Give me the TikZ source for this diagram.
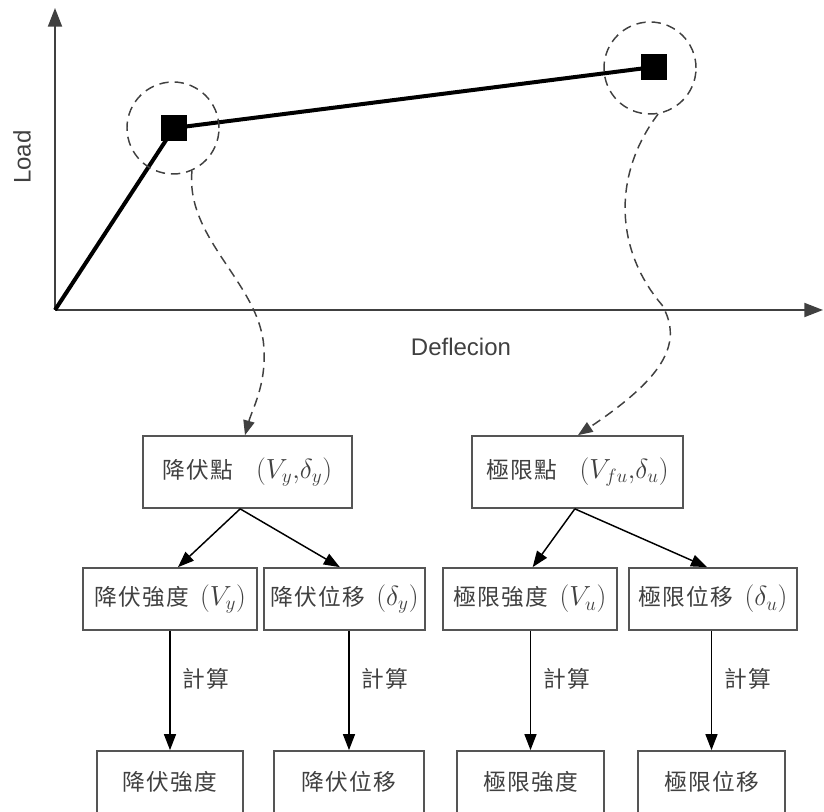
\documentclass[tikz,border=0pt]{standalone}
\usepackage{fontspec}
\newfontfamily\cjk{Noto Sans CJK TC}
\newfontfamily\labfont{Liberation Sans}
\usetikzlibrary{arrows.meta}
\newcommand\ls{\hspace{1pt}}
\newcommand\mathbig[1]{{\fontsize{20}{24}\selectfont$#1$}}
\definecolor{linegray}{HTML}{404040}
\definecolor{boxgray}{HTML}{555555}
\definecolor{txtgray}{HTML}{404040}
\begin{document}
\begin{tikzpicture}[x=0.75pt,y=-0.75pt,
  axisline/.style={draw=linegray, line width=1.4pt,
    -{Triangle[length=14pt,width=10.5pt]}},
  curve/.style={draw=black, line width=3pt},
  pt/.style={fill=black, minimum size=19.5pt, inner sep=0pt},
  ring/.style={circle, draw=linegray, line width=1.1pt,
    dash pattern=on 7pt off 4.5pt, minimum size=69pt, inner sep=0pt},
  link/.style={draw=linegray, line width=1.1pt, dash pattern=on 7pt off 4.5pt,
    -{Triangle[length=11pt,width=8.5pt]}},
  arr/.style={draw=black, line width=1.1pt,
    -{Triangle[length=12pt,width=9pt]}},
  box/.style={draw=boxgray, line width=1.3pt, fill=white,
    text=txtgray, font=\cjk\fontsize{17}{20}\selectfont, inner sep=0pt},
  calc/.style={text=txtgray, font=\cjk\fontsize{17}{20}\selectfont,
    inner sep=0pt, anchor=west},
  axlabel/.style={text=txtgray, font=\labfont\fontsize{18}{21}\selectfont}
]
\useasboundingbox (0,0) rectangle (824,812);
\clip (0,0) rectangle (824,812);

% axes
\coordinate (O) at (55,310);
\coordinate (ytip) at (55,8);
\coordinate (xtip) at (823,310);
\draw[axisline] (O) -- (ytip);
\draw[axisline] (O) -- (xtip);
\node[axlabel, rotate=90] (load) at (22,157) {Load};
\node[axlabel] (defl) at (461,347) {Deflecion};

% bilinear load--deflection curve
\node[pt] (yield) at (174,128) {};
\node[pt] (ult) at (654,67) {};
\draw[curve] (O) -- (yield.center) -- (ult.center);
\node[ring] (c1) at (173,128) {};
\node[ring] (c2) at (650,68) {};

% boxes
\node[box, minimum width=156.75pt, minimum height=54pt] (b1) at (247.5,472)
  {降\ls 伏\ls 點\quad\mathbig{(V_y{,}\delta_y)}};
\node[box, minimum width=158.25pt, minimum height=54pt] (b2) at (577.5,472)
  {極\ls 限\ls 點\quad\mathbig{(V_{fu}{,}\delta_u)}};

\node[box, minimum width=130.5pt, minimum height=46.5pt] (A) at (170,599)
  {降\ls 伏\ls 強\ls 度\enspace\mathbig{(V_y)}};
\node[box, minimum width=120.75pt, minimum height=46.5pt] (B) at (344.5,599)
  {降\ls 伏\ls 位\ls 移\enspace\mathbig{(\delta_y)}};
\node[box, minimum width=130.5pt, minimum height=46.5pt] (C) at (530,599)
  {極\ls 限\ls 強\ls 度\enspace\mathbig{(V_u)}};
\node[box, minimum width=126pt, minimum height=46.5pt] (D) at (713,599)
  {極\ls 限\ls 位\ls 移\enspace\mathbig{(\delta_u)}};

\node[box, minimum width=109.5pt, minimum height=46.5pt] (E) at (170,782)
  {降\ls 伏\ls 強\ls 度};
\node[box, minimum width=112.5pt, minimum height=46.5pt] (F) at (349,782)
  {降\ls 伏\ls 位\ls 移};
\node[box, minimum width=110.25pt, minimum height=46.5pt] (G) at (530.5,782)
  {極\ls 限\ls 強\ls 度};
\node[box, minimum width=110.25pt, minimum height=46.5pt] (H) at (711.5,782)
  {極\ls 限\ls 位\ls 移};

% dashed leaders from the marked points to their boxes
\draw[link] (c1.-66) .. controls (185,240) and (262,285) .. (264,350)
  .. controls (266,385) and (252,410) .. (b1.north -| 245,0);
\draw[link] (c2.-80) .. controls (612,175) and (615,250) .. (662,305)
  .. controls (685,345) and (660,380) .. (b2.north -| 578,0);

% splitting arrows
\draw[arr] ([xshift=-5.5pt]b1.south) -- ([xshift=6pt]A.north);
\draw[arr] ([xshift=-5.5pt]b1.south) -- ([xshift=-3.5pt]B.north);
\draw[arr] ([xshift=-2pt]b2.south) -- ([xshift=2pt]C.north);
\draw[arr] ([xshift=-2pt]b2.south) -- ([xshift=-4.5pt]D.north);

% calculation arrows
\draw[arr] (E.north |- A.south) -- node[calc, pos=0.4, xshift=9pt] (k1) {計\ls 算} (E.north);
\draw[arr] (F.north |- B.south) -- node[calc, pos=0.4, xshift=9pt] (k2) {計\ls 算} (F.north);
\draw[arr] (G.north |- C.south) -- node[calc, pos=0.4, xshift=9pt] (k3) {計\ls 算} (G.north);
\draw[arr] (H.north |- D.south) -- node[calc, pos=0.4, xshift=9pt] (k4) {計\ls 算} (H.north);
\end{tikzpicture}
\end{document}
